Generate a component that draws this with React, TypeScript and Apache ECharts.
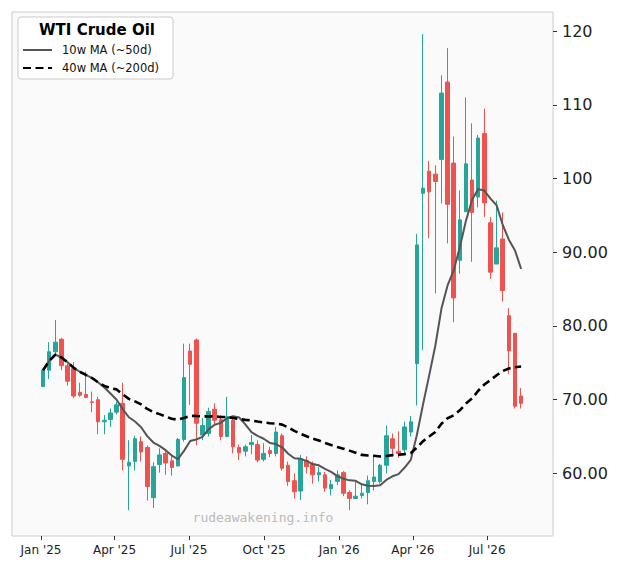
import React, { useEffect, useRef } from 'react';
import * as echarts from 'echarts';

// Candle positions: days since 1 Jan 2025
const weekDays = [
  2.5, 10, 17.5, 25, 32.5, 40, 47.5, 55, 62.5, 70,
  77.5, 85, 92.5, 100, 107.5, 115, 122.5, 130, 137.5, 145,
  152.5, 160, 167.5, 175, 182.5, 190, 197.5, 205, 212.5, 220,
  227.5, 235, 242.5, 250, 257.5, 265, 272.5, 280, 287.5, 295,
  302.5, 310, 317.5, 325, 332.5, 340, 347.5, 355, 362.5, 370,
  377.5, 385, 392.5, 400, 407.5, 415, 422.5, 430, 437.5, 445,
  452.5, 460, 467.5, 475, 482.5, 490, 497.5, 505, 512.5, 520,
  527.5, 535, 542.5, 550, 557.5, 565, 572.5, 580, 587.5,
];

const opens = [
  71.8, 74.0, 76.5, 78.2, 74.6, 74.2, 71.0, 70.7, 69.7, 70.0,
  67.0, 67.3, 68.3, 69.5, 61.0, 61.6, 64.3, 63.5, 56.7, 61.2,
  62.7, 61.7, 61.0, 64.6, 76.6, 78.1, 65.2, 65.4, 68.7, 67.3,
  65.0, 67.2, 63.5, 63.0, 63.9, 63.9, 61.9, 63.1, 62.7, 65.1,
  61.1, 59.0, 57.6, 61.7, 61.2, 59.8, 59.8, 57.9, 58.9, 60.1,
  57.4, 56.6, 57.0, 57.4, 58.9, 58.9, 61.1, 64.7, 63.0, 63.2,
  65.6, 74.9, 98.0, 101.0, 100.6, 102.6, 113.1, 102.1, 88.9, 95.5,
  99.8, 97.5, 106.1, 94.0, 88.4, 91.8, 81.4, 79.0, 70.5,
];

const closes = [
  74.0, 76.5, 77.8, 74.6, 72.5, 70.5, 70.6, 70.3, 69.6, 67.0,
  67.2, 68.2, 69.3, 61.9, 61.5, 64.7, 62.9, 58.2, 60.9, 62.5,
  61.4, 60.8, 64.6, 73.0, 74.8, 66.8, 66.5, 68.4, 67.2, 65.0,
  67.7, 63.6, 62.8, 63.6, 64.2, 61.8, 62.7, 62.7, 65.6, 60.7,
  58.9, 57.5, 62.0, 60.9, 59.8, 60.1, 58.0, 58.5, 59.8, 57.3,
  56.6, 56.9, 57.3, 59.0, 59.5, 61.1, 65.1, 63.4, 62.7, 66.3,
  67.0, 91.0, 98.7, 98.2, 99.6, 111.6, 96.5, 83.8, 94.4, 102.0,
  95.4, 105.5, 96.7, 87.3, 90.6, 84.8, 76.6, 69.1, 69.5,
];

const lows = [
  71.7, 72.8, 76.2, 74.0, 71.9, 70.2, 70.4, 70.2, 68.3, 65.3,
  65.3, 66.3, 68.0, 60.4, 55.0, 60.4, 61.6, 56.3, 55.3, 60.1,
  59.8, 59.7, 61.0, 64.3, 69.3, 63.8, 64.5, 65.0, 66.5, 64.5,
  64.9, 62.7, 61.8, 62.3, 62.6, 61.5, 61.6, 62.2, 62.3, 60.4,
  58.3, 56.6, 56.4, 60.0, 58.6, 58.9, 57.5, 57.0, 58.4, 56.9,
  55.0, 56.5, 56.6, 55.8, 57.7, 58.6, 60.0, 62.3, 62.1, 62.5,
  65.0, 69.2, 76.7, 91.9, 84.4, 96.6, 91.2, 80.5, 87.1, 95.5,
  88.7, 96.1, 94.8, 86.4, 88.4, 83.3, 73.5, 68.8, 68.8,
];

const highs = [
  74.2, 77.8, 80.8, 78.4, 74.9, 75.1, 72.3, 73.8, 71.1, 70.4,
  67.9, 68.8, 69.7, 72.3, 64.5, 65.1, 65.0, 63.8, 61.5, 63.4,
  63.3, 62.3, 64.8, 77.6, 77.6, 78.3, 67.5, 68.9, 69.5, 67.9,
  70.4, 67.7, 63.9, 63.9, 65.2, 64.5, 64.1, 63.6, 66.3, 65.4,
  61.6, 60.0, 62.5, 62.3, 61.6, 60.9, 60.2, 59.1, 60.4, 60.3,
  57.7, 58.9, 58.6, 59.7, 62.3, 61.3, 66.5, 65.4, 65.7, 67.0,
  67.8, 92.5, 119.6, 102.4, 101.8, 114.0, 117.7, 105.7, 98.4, 111.0,
  107.5, 105.9, 109.5, 94.8, 97.0, 95.4, 82.4, 79.0, 71.6,
];

const xTickDays = [0, 90, 181, 273, 365, 455, 546];
const xTickLabels = ["Jan '25", "Apr '25", "Jul '25", "Oct '25", "Jan '26", "Apr '26", "Jul '26"];
const yTickValues = [60, 70, 80, 90, 100, 110, 120];
const yTickLabels = ['60.00', '70.00', '80.00', '90.00', '100', '110', '120'];

const MA10_NAME = '10w MA (~50d)';
const MA40_NAME = '40w MA (~200d)';

function movingAverage(values: number[], windowSize: number): number[] {
  return values.map((_, i) => {
    const start = Math.max(0, i - windowSize + 1);
    const w = values.slice(start, i + 1);
    return w.reduce((a, b) => a + b, 0) / w.length;
  });
}

export default function App() {
  const ref = useRef<HTMLDivElement>(null);

  useEffect(() => {
    if (!ref.current) return;
    const chart = echarts.init(ref.current, null, { renderer: 'svg' });
    const candles = weekDays.map((d, i) => [d, opens[i], closes[i], lows[i], highs[i]]);
    const ma10 = movingAverage(closes, 10).map((v, i) => [weekDays[i], v]);
    const ma40 = movingAverage(closes, 40).map((v, i) => [weekDays[i], v]);

    chart.setOption({
      animation: false,
      backgroundColor: '#ffffff',
      textStyle: { fontFamily: 'DejaVu Sans' },
      grid: {
        left: 12,
        right: 71,
        top: 12,
        bottom: 38,
        show: true,
        backgroundColor: '#fafafa',
        borderColor: '#cccccc',
        borderWidth: 1,
      },
      legend: {
        data: [MA10_NAME, MA40_NAME],
        orient: 'vertical',
        left: 18,
        top: 17,
        padding: [27, 14, 5, 4],
        itemGap: 6,
        itemWidth: 29,
        itemHeight: 14,
        backgroundColor: 'rgba(255,255,255,0.85)',
        borderColor: '#cccccc',
        borderWidth: 1,
        borderRadius: 3,
        itemStyle: { opacity: 0 },
        textStyle: { fontSize: 11.5, color: '#111', fontFamily: 'DejaVu Sans', padding: [0, 0, 0, 5] },
      },
      graphic: [
        {
          type: 'text',
          z: 100,
          x: 97,
          y: 29.5,
          style: {
            text: 'WTI Crude Oil',
            fontFamily: 'DejaVu Sans',
            fontWeight: 'bold',
            fontSize: 15,
            fill: '#000',
            textAlign: 'center',
            textVerticalAlign: 'middle',
          },
        },
        {
          type: 'text',
          z: 100,
          x: 263,
          y: 517,
          style: {
            text: 'rudeawakening.info',
            fontFamily: 'DejaVu Sans Mono',
            fontSize: 13,
            fill: '#bbbbbb',
            textAlign: 'center',
            textVerticalAlign: 'middle',
          },
        },
      ],
      xAxis: {
        type: 'value',
        min: -35.5,
        max: 626.5,
        axisLine: { show: false, onZero: false },
        splitLine: { show: false },
        axisTick: { show: true, customValues: xTickDays, length: 4, lineStyle: { color: '#333' } },
        axisLabel: {
          customValues: xTickDays,
          formatter: (v: number) => {
            const idx = xTickDays.indexOf(v);
            return idx >= 0 ? xTickLabels[idx] : '';
          },
          fontSize: 12,
          color: '#222',
          margin: 8,
        },
      },
      yAxis: {
        type: 'value',
        position: 'right',
        min: 51.5,
        max: 122.6,
        axisLine: { show: false, onZero: false },
        splitLine: { show: false },
        axisTick: { show: true, customValues: yTickValues, length: 4, lineStyle: { color: '#333' } },
        axisLabel: {
          customValues: yTickValues,
          formatter: (v: number) => {
            const idx = yTickValues.indexOf(v);
            return idx >= 0 ? yTickLabels[idx] : '';
          },
          fontSize: 16,
          color: '#222',
          margin: 9,
        },
      },
      series: [
        {
          type: 'candlestick',
          name: 'WTI',
          data: candles,
          encode: { x: 0, y: [1, 2, 3, 4] },
          barWidth: 4,
          itemStyle: {
            color: '#26a69a',
            color0: '#ef5350',
            borderColor: '#26a69a',
            borderColor0: '#ef5350',
            borderWidth: 1,
          },
          z: 2,
        },
        {
          type: 'line',
          name: MA10_NAME,
          data: ma10,
          symbol: 'none',
          showSymbol: false,
          lineStyle: { color: '#555555', width: 2 },
          itemStyle: { color: '#555555' },
          z: 3,
        },
        {
          type: 'line',
          name: MA40_NAME,
          data: ma40,
          symbol: 'none',
          showSymbol: false,
          lineStyle: { color: '#000000', width: 2.6, type: [8, 4.5] },
          itemStyle: { color: '#000000' },
          z: 4,
        },
      ],
    });

    return () => chart.dispose();
  }, []);

  return <div ref={ref} style={{ position: 'fixed', left: 0, top: 0, width: 624, height: 574 }} />;
}
